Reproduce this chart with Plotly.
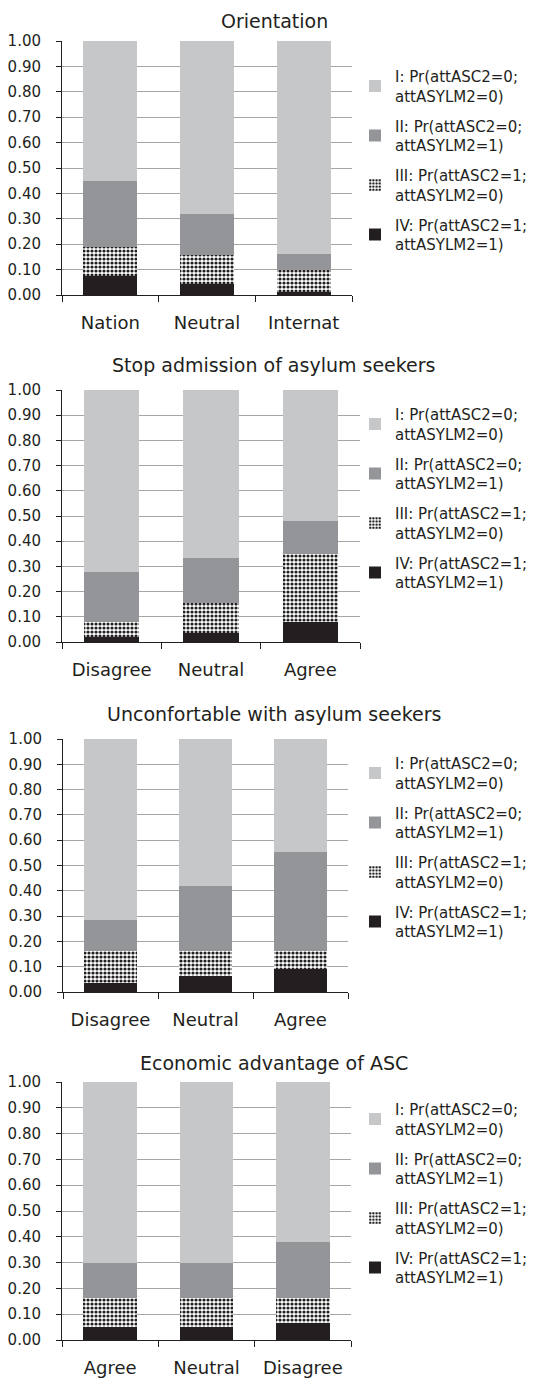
import plotly.graph_objects as go

# ---------------- data ----------------
series_names = [
    "IV: Pr(attASC2=1;<br>attASYLM2=1)",
    "III: Pr(attASC2=1;<br>attASYLM2=0)",
    "II: Pr(attASC2=0;<br>attASYLM2=1)",
    "I: Pr(attASC2=0;<br>attASYLM2=0)",
]

titles = [
    "Orientation",
    "Stop admission of asylum seekers",
    "Unconfortable with asylum seekers",
    "Economic advantage of ASC",
]

cats_orientation = ["Nation", "Neutral", "Internat"]
cats_stop = ["Disagree", "Neutral", "Agree"]
cats_uncomf = ["Disagree", "Neutral", "Agree"]
cats_econ = ["Agree", "Neutral", "Disagree"]

# segment values (IV, III, II, I) per category
orientation_IV = [0.073, 0.045, 0.013]
orientation_III = [0.117, 0.114, 0.084]
orientation_II = [0.257, 0.159, 0.064]
orientation_I = [0.553, 0.682, 0.839]

stop_IV = [0.018, 0.034, 0.079]
stop_III = [0.063, 0.122, 0.271]
stop_II = [0.195, 0.176, 0.131]
stop_I = [0.724, 0.668, 0.519]

uncomf_IV = [0.036, 0.062, 0.089]
uncomf_III = [0.125, 0.099, 0.072]
uncomf_II = [0.124, 0.258, 0.394]
uncomf_I = [0.715, 0.581, 0.445]

econ_IV = [0.049, 0.049, 0.064]
econ_III = [0.112, 0.112, 0.097]
econ_II = [0.139, 0.138, 0.217]
econ_I = [0.700, 0.701, 0.622]

y_tickvals = [0.0, 0.1, 0.2, 0.3, 0.4, 0.5, 0.6, 0.7, 0.8, 0.9, 1.0]
y_ticktext = ["0.00", "0.10", "0.20", "0.30", "0.40", "0.50",
              "0.60", "0.70", "0.80", "0.90", "1.00"]

panels = [
    (cats_orientation, [orientation_IV, orientation_III, orientation_II, orientation_I]),
    (cats_stop, [stop_IV, stop_III, stop_II, stop_I]),
    (cats_uncomf, [uncomf_IV, uncomf_III, uncomf_II, uncomf_I]),
    (cats_econ, [econ_IV, econ_III, econ_II, econ_I]),
]

# ---------------- layout geometry (pixels, figure coords; page adds 8px body margin) ----------------
W, H = 532, 1372
FONT = "DejaVu Sans"
TXT = "#231f20"
# (x0, x1, y_top, y_bottom, title_y, legend_top)
geo = [
    (54, 344, 33, 287, 9, 52),
    (54, 352, 382, 634, 357, 390),
    (55, 340, 731, 984, 706, 739),
    (54, 343, 1074, 1332, 1055, 1085),
]
LEG_X = 347

colors = ["#231f20", None, "#939598", "#c6c7c9"]

fig = go.Figure()

for p, (cats, vals) in enumerate(panels):
    ax = "" if p == 0 else str(p + 1)
    leg = "legend" if p == 0 else "legend" + str(p + 1)
    for s in range(4):
        if s == 1:
            marker = dict(color="white",
                          pattern=dict(shape=".", fgcolor="#231f20", bgcolor="white",
                                       fgopacity=1, size=4, solidity=0.5,
                                       fillmode="replace"),
                          line=dict(width=0))
        else:
            marker = dict(color=colors[s], line=dict(width=0))
        fig.add_trace(go.Bar(
            x=cats, y=vals[s], name=series_names[s],
            xaxis="x" + ax, yaxis="y" + ax,
            marker=marker, width=0.56,
            legend=leg, legendgroup=f"g{p}_{s}", legendrank=10 - s,
        ))

layout = dict(
    width=W, height=H,
    margin=dict(l=0, r=0, t=0, b=0, autoexpand=False),
    paper_bgcolor="white", plot_bgcolor="white",
    barmode="stack",
    showlegend=True,
    font=dict(family=FONT, color=TXT),
    annotations=[],
)

for p, (x0, x1, yt, yb, ty, lt) in enumerate(geo):
    ax = "" if p == 0 else str(p + 1)
    layout["xaxis" + ax] = dict(
        domain=[x0 / W, x1 / W], anchor="y" + ax,
        showline=True, linecolor="#231f20", linewidth=1,
        ticks="outside", tickson="boundaries", ticklen=6, tickcolor="#231f20",
        tickfont=dict(family=FONT, size=18, color=TXT),
        ticklabelstandoff=11,
        showgrid=False, fixedrange=True, automargin=False,
    )
    layout["yaxis" + ax] = dict(
        domain=[1 - yb / H, 1 - yt / H], anchor="x" + ax,
        range=[0, 1], tickvals=y_tickvals, ticktext=y_ticktext,
        showline=True, linecolor="#231f20", linewidth=1,
        ticks="outside", ticklen=5, tickcolor="#231f20",
        tickfont=dict(family=FONT, size=15, color=TXT),
        ticklabelstandoff=12,
        showgrid=True, gridcolor="#a6a6a6", gridwidth=1,
        zeroline=False, fixedrange=True, automargin=False,
    )
    if p == 0:
        ann_pos = dict(y=1.0, yanchor="top")
    else:
        ann_pos = dict(y=1 - ty / H, yanchor="middle")
    layout["annotations"].append(dict(
        text=titles[p], x=0.5, xref="paper", yref="paper",
        xanchor="center", showarrow=False,
        font=dict(family=FONT, size=19, color=TXT), **ann_pos,
    ))
    leg = "legend" if p == 0 else "legend" + str(p + 1)
    layout[leg] = dict(
        x=LEG_X / W, y=1 - lt / H, xanchor="left", yanchor="top",
        xref="paper", yref="paper",
        bgcolor="rgba(0,0,0,0)", borderwidth=0,
        font=dict(family=FONT, size=15, color=TXT),
        traceorder="grouped", tracegroupgap=7.5,
        itemwidth=30,
    )

fig.update_layout(**layout)
fig.write_html("out.html")
